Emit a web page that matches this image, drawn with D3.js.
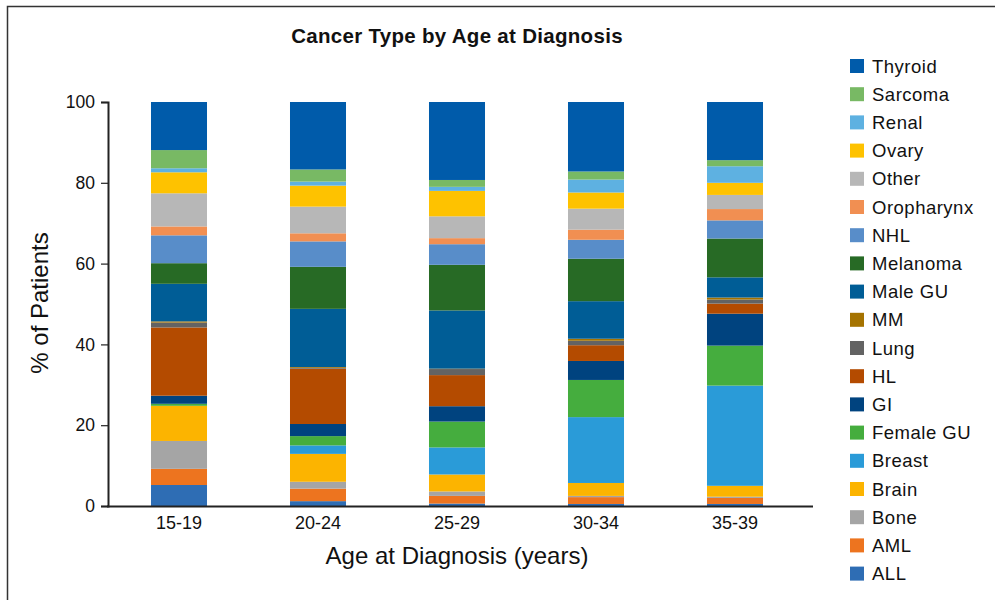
<!DOCTYPE html>
<html>
<head>
<meta charset="utf-8">
<script src="https://cdn.jsdelivr.net/npm/d3@7"></script>
<style>
  html, body { margin: 0; padding: 0; background: #fff; }
  svg { display: block; }
  text { font-family: "Liberation Sans", Arial, sans-serif; fill: #111; }
</style>
</head>
<body>
<svg id="chart" width="995" height="600"></svg>
<script>
// Age groups along the x axis
const ageGroups = ["15-19", "20-24", "25-29", "30-34", "35-39"];

// Cancer types, stacked bottom to top
const cancerTypes = ["ALL", "AML", "Bone", "Brain", "Breast", "Female GU", "GI", "HL", "Lung", "MM",
  "Male GU", "Melanoma", "NHL", "Oropharynx", "Other", "Ovary", "Renal", "Sarcoma", "Thyroid"];

const typeColors = ["#2E6DB4", "#ED741F", "#A5A5A5", "#FCB400", "#2A9BD8", "#45AD3E", "#00437F", "#B44B00",
  "#636363", "#A57300", "#005D96", "#276A25", "#588DC9", "#F18F52", "#B7B7B7", "#FEC200", "#5EB1E1",
  "#78B964", "#005BAA"];

// Percent of patients per cancer type (same order as cancerTypes)
const pct15_19 = [5.2, 4.0, 6.9, 8.7, 0.0, 0.5, 2.0, 16.9, 1.2, 0.3, 9.3, 5.1, 6.9, 2.2, 8.2, 5.2, 1.0, 4.5, 11.9];
const pct20_24 = [1.2, 3.1, 1.7, 6.9, 2.1, 2.3, 3.0, 13.7, 0.2, 0.2, 14.4, 10.4, 6.3, 2.0, 6.6, 5.2, 1.0, 3.0, 16.7];
const pct25_29 = [0.6, 1.9, 1.1, 4.2, 6.7, 6.4, 3.8, 7.7, 1.5, 0.1, 14.4, 11.3, 5.1, 1.5, 5.4, 6.3, 1.0, 1.7, 19.3];
const pct30_34 = [0.5, 1.7, 0.3, 3.2, 16.3, 9.2, 4.7, 3.9, 1.1, 0.5, 9.3, 10.5, 4.7, 2.5, 5.2, 4.0, 3.2, 2.0, 17.2];
const pct35_39 = [0.5, 1.5, 0.3, 2.7, 24.8, 9.9, 7.9, 2.5, 1.0, 0.5, 5.0, 9.6, 4.5, 2.8, 3.5, 3.0, 4.1, 1.5, 14.4];

const yTicks = [0, 20, 40, 60, 80, 100];

const seriesByAge = [pct15_19, pct20_24, pct25_29, pct30_34, pct35_39];
const rows = ageGroups.map((age, i) => {
  const r = { age };
  cancerTypes.forEach((t, j) => { r[t] = seriesByAge[i][j]; });
  return r;
});

const svg = d3.select("#chart");

// Outer frame (top and left edges)
svg.append("path")
  .attr("d", "M7.5,600 L7.5,6.5 L995,6.5")
  .attr("fill", "none")
  .attr("stroke", "#333")
  .attr("stroke-width", 1.5);

const x = d3.scaleBand()
  .domain(ageGroups)
  .range([109.5, 804.5])
  .paddingInner(0.597)
  .paddingOuter(0.2985);

const y = d3.scaleLinear().domain([0, 100]).range([506, 102]);

const color = d3.scaleOrdinal().domain(cancerTypes).range(typeColors);

const stacked = d3.stack().keys(cancerTypes)(rows);

// Stacked bars
svg.append("g")
  .selectAll("g")
  .data(stacked)
  .join("g")
  .attr("fill", d => color(d.key))
  .selectAll("rect")
  .data(d => d)
  .join("rect")
  .attr("x", d => x(d.data.age))
  .attr("width", x.bandwidth())
  .attr("y", d => y(d[1]))
  .attr("height", d => Math.max(0, y(d[0]) - y(d[1])));

// Y axis
const yAxis = svg.append("g")
  .attr("transform", "translate(108,0)")
  .call(d3.axisLeft(y).tickValues(yTicks).tickSize(7).tickPadding(6));
yAxis.select(".domain").attr("stroke", "#222").attr("stroke-width", 2);
yAxis.selectAll(".tick line").attr("stroke", "#222").attr("stroke-width", 1.2);
yAxis.selectAll(".tick text")
  .style("font-family", "'Liberation Sans', Arial, sans-serif")
  .style("font-size", "17.5px")
  .attr("fill", "#111");

// X axis
const xAxis = svg.append("g")
  .attr("transform", "translate(0,506)")
  .call(d3.axisBottom(x).tickSize(0).tickPadding(10).tickSizeOuter(0));
xAxis.select(".domain")
  .attr("d", "M107,0.5H813")
  .attr("stroke", "#222").attr("stroke-width", 2);
xAxis.selectAll(".tick text")
  .style("font-family", "'Liberation Sans', Arial, sans-serif")
  .style("font-size", "18px")
  .attr("fill", "#111");

// Title
svg.append("text")
  .attr("x", 457)
  .attr("y", 43)
  .attr("text-anchor", "middle")
  .style("font-size", "20.5px")
  .style("letter-spacing", "0.3px")
  .style("font-weight", "bold")
  .text("Cancer Type by Age at Diagnosis");

// Axis titles
svg.append("text")
  .attr("x", 457)
  .attr("y", 564)
  .attr("text-anchor", "middle")
  .style("font-size", "24px")
  .text("Age at Diagnosis (years)");

svg.append("text")
  .attr("transform", "translate(48,303) rotate(-90)")
  .attr("text-anchor", "middle")
  .style("font-size", "24px")
  .text("% of Patients");

// Legend, listed top of stack first
const legendTypes = cancerTypes.slice().reverse();
const legend = svg.append("g")
  .selectAll("g")
  .data(legendTypes)
  .join("g")
  .attr("transform", (d, i) => `translate(850,${59 + i * 28.2})`);
legend.append("rect")
  .attr("width", 14).attr("height", 14)
  .attr("fill", d => color(d));
legend.append("text")
  .attr("x", 22).attr("y", 13.5)
  .style("font-size", "18.5px")
  .style("letter-spacing", "0.5px")
  .text(d => d);
</script>
</body>
</html>
